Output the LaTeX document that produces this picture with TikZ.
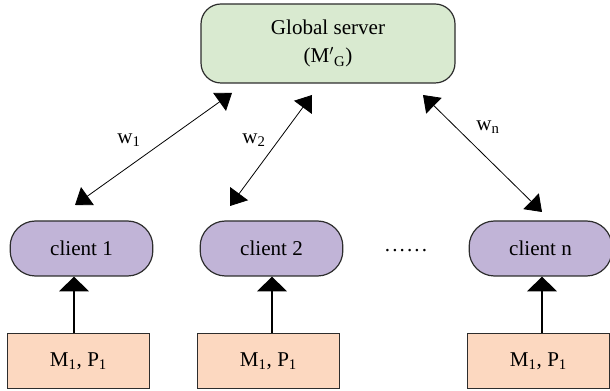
\documentclass[tikz,border=0pt]{standalone}
\usepackage{fontspec}
\setmainfont{Liberation Serif}
\usetikzlibrary{arrows.meta}
\definecolor{srvfill}{RGB}{217,234,208}
\definecolor{clifill}{RGB}{193,180,215}
\definecolor{boxfill}{RGB}{252,216,192}
\definecolor{edge}{RGB}{45,45,45}
\tikzset{
  srv/.style={draw=edge, line width=0.9pt, fill=srvfill, rounded corners=15pt,
    minimum width=190.5pt, minimum height=59.25pt, align=center, inner sep=0pt},
  cli/.style={draw=edge, line width=0.9pt, fill=clifill, rounded corners=19pt,
    minimum width=107pt, minimum height=41.25pt, inner sep=0pt},
  par/.style={draw=edge, line width=0.9pt, fill=boxfill,
    minimum width=107pt, minimum height=41.25pt, inner sep=0pt},
  lbl/.style={inner sep=0pt},
  dbl/.style={line width=0.6pt, {Triangle[length=11.5pt,width=16.5pt]}-{Triangle[length=11.5pt,width=16.5pt]}},
  upar/.style={line width=1.6pt, -{Triangle[length=11pt,width=22pt]}}
}
\newcommand{\mydots}{.\kern1.6pt.\kern1.6pt.\kern1.6pt.\kern1.6pt.\kern1.6pt.}
\begin{document}
\begin{tikzpicture}[x=0.75pt,y=-0.75pt, font=\fontsize{15.8}{18.5}\selectfont]
\useasboundingbox (0,0) rectangle (610,391);
\node[srv] (srv) at (328,43.5) {Global server\\[3pt](M$'{}_{\mathrm{G}}$)};
\node[cli] (c1) at (81.5,248.5) {client 1};
\node[cli] (c2) at (271.5,248.5) {client 2};
\node[cli] (cn) at (540.5,248.5) {client n};
\node[par] (p1) at (78.5,361) {M\textsubscript{1}, P\textsubscript{1}};
\node[par] (p2) at (268.5,361) {M\textsubscript{1}, P\textsubscript{1}};
\node[par] (pn) at (538.5,361) {M\textsubscript{1}, P\textsubscript{1}};
\node[lbl] (dots) at (406,251) {\mydots};
\coordinate (a1) at (75,205);
\coordinate (b1) at (232,93);
\coordinate (a2) at (230,206);
\coordinate (b2) at (312,95);
\coordinate (an) at (542,212);
\coordinate (bn) at (423,95);
\draw[dbl] (a1) -- (b1);
\draw[dbl] (a2) -- (b2);
\draw[dbl] (an) -- (bn);
\node[lbl] (w1) at (129,140) {w\textsubscript{1}};
\node[lbl] (w2) at (254,140) {w\textsubscript{2}};
\node[lbl] (wn) at (488,127) {w\textsubscript{n}};
\draw[upar] (p1.north -| 74,0) -- (c1.south -| 74,0);
\draw[upar] (p2.north -| 272,0) -- (c2.south -| 272,0);
\draw[upar] (pn.north -| 542,0) -- (cn.south -| 542,0);
\end{tikzpicture}
\end{document}
